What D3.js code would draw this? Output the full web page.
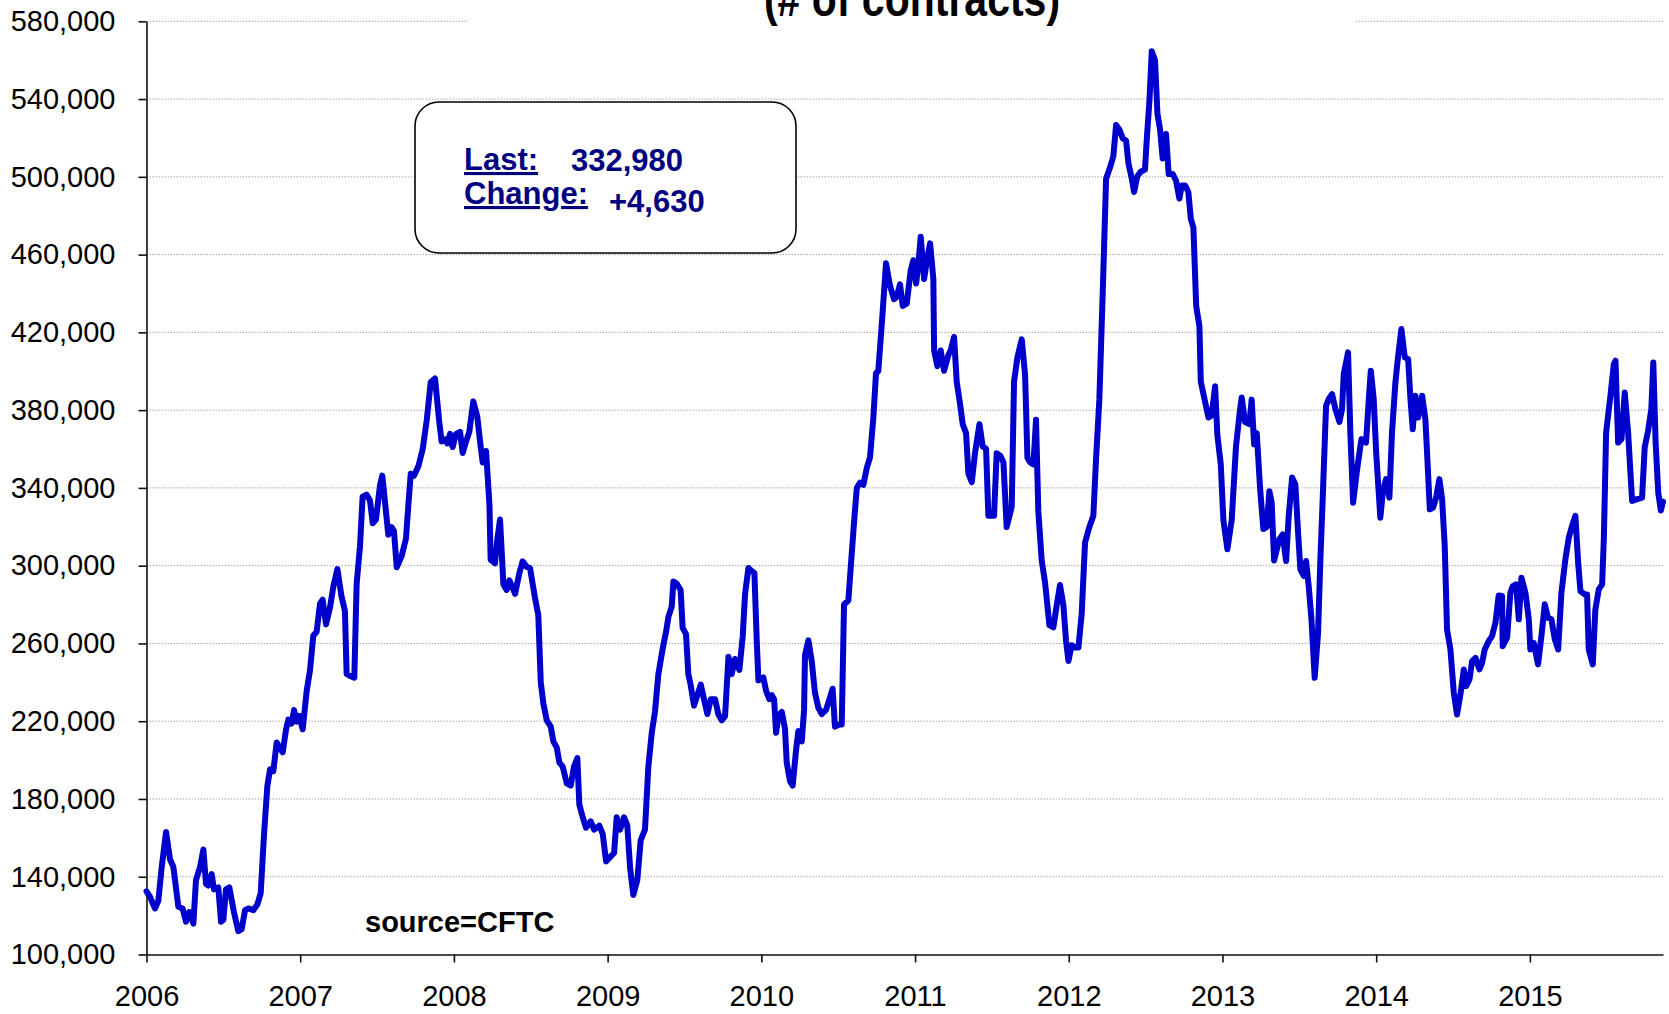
<!DOCTYPE html>
<html>
<head>
<meta charset="utf-8">
<script src="https://cdn.jsdelivr.net/npm/d3@7"></script>
<style>
  html, body { margin: 0; padding: 0; background: #ffffff; }
  svg { display: block; }
</style>
</head>
<body>
<svg id="chart" width="1669" height="1014"></svg>
<script>
// Net open positions, weekly, in thousands of contracts
const title = "(# of contracts)";
const sourceNote = "source=CFTC";
const yearTicks = [2006, 2007, 2008, 2009, 2010, 2011, 2012, 2013, 2014, 2015];
const valueTicks = [100000, 140000, 180000, 220000, 260000, 300000, 340000,
                    380000, 420000, 460000, 500000, 540000, 580000];
const lastValue = 332980;
const weeklyChange = 4630;

// Dates as decimal years (2006 + offset)
const yearOffsets = [
  0.000,0.023,0.055,0.077,0.099,0.127,0.153,0.175,0.207,0.235,0.257,0.279,0.305,0.322,0.348,0.370,
  0.387,0.402,0.424,0.439,0.467,0.485,0.500,0.517,0.539,0.569,0.597,0.619,0.641,0.663,0.695,0.721,
  0.743,0.764,0.786,0.804,0.825,0.847,0.869,0.886,0.908,0.923,0.944,0.960,0.977,0.994,1.016,1.042,
  1.064,1.085,1.107,1.129,1.146,1.168,1.194,1.216,1.242,1.268,1.291,1.302,1.324,1.352,1.367,1.389,
  1.406,1.432,1.454,1.472,1.493,1.519,1.534,1.552,1.573,1.595,1.610,1.628,1.660,1.688,1.704,1.719,
  1.740,1.769,1.797,1.823,1.849,1.877,1.905,1.920,1.942,1.957,1.975,1.992,2.014,2.040,2.057,2.079,
  2.100,2.126,2.152,2.170,2.187,2.209,2.231,2.239,2.267,2.283,2.300,2.322,2.343,2.361,2.398,2.426,
  2.447,2.473,2.495,2.528,2.549,2.565,2.582,2.604,2.630,2.647,2.669,2.686,2.708,2.734,2.760,2.781,
  2.803,2.816,2.838,2.859,2.890,2.912,2.946,2.968,2.990,3.016,3.042,3.059,3.081,3.107,3.128,3.146,
  3.167,3.193,3.215,3.243,3.265,3.287,3.308,3.330,3.358,3.380,3.395,3.417,3.428,3.449,3.475,3.488,
  3.510,3.525,3.540,3.562,3.584,3.606,3.627,3.649,3.671,3.699,3.720,3.742,3.764,3.786,3.807,3.829,
  3.857,3.879,3.894,3.916,3.937,3.955,3.970,3.981,4.013,4.031,4.052,4.068,4.083,4.096,4.111,4.133,
  4.154,4.165,4.187,4.204,4.226,4.241,4.263,4.278,4.284,4.306,4.328,4.349,4.371,4.393,4.421,4.443,
  4.464,4.479,4.508,4.523,4.538,4.566,4.581,4.603,4.621,4.642,4.664,4.686,4.707,4.729,4.746,4.761,
  4.790,4.811,4.837,4.863,4.881,4.902,4.920,4.946,4.972,4.989,5.007,5.022,5.037,5.059,5.076,5.098,
  5.119,5.124,5.145,5.167,5.189,5.217,5.232,5.254,5.271,5.293,5.310,5.332,5.347,5.369,5.390,5.419,
  5.440,5.462,5.477,5.514,5.531,5.553,5.575,5.596,5.629,5.644,5.666,5.694,5.716,5.731,5.748,5.770,
  5.787,5.802,5.824,5.846,5.874,5.900,5.922,5.943,5.965,5.982,5.998,6.019,6.041,6.063,6.084,6.106,
  6.134,6.160,6.178,6.199,6.221,6.243,6.269,6.290,6.308,6.329,6.351,6.373,6.388,6.410,6.425,6.446,
  6.468,6.496,6.507,6.525,6.540,6.561,6.577,6.594,6.611,6.633,6.650,6.677,6.698,6.720,6.735,6.757,
  6.778,6.794,6.811,6.829,6.850,6.859,6.887,6.909,6.930,6.952,6.967,6.989,7.006,7.032,7.060,7.088,
  7.110,7.125,7.147,7.175,7.190,7.206,7.223,7.245,7.266,7.288,7.305,7.320,7.336,7.370,7.392,7.414,
  7.431,7.453,7.474,7.492,7.507,7.529,7.544,7.561,7.579,7.600,7.622,7.637,7.652,7.674,7.691,7.713,
  7.735,7.761,7.778,7.789,7.817,7.832,7.850,7.876,7.904,7.934,7.952,7.965,7.984,8.000,8.027,8.043,
  8.064,8.086,8.103,8.125,8.143,8.164,8.186,8.208,8.223,8.238,8.255,8.273,8.299,8.320,8.331,8.349,
  8.370,8.390,8.411,8.429,8.446,8.461,8.483,8.505,8.526,8.548,8.570,8.585,8.607,8.624,8.646,8.672,
  8.689,8.706,8.732,8.754,8.776,8.797,8.819,8.823,8.852,8.873,8.889,8.910,8.928,8.945,8.971,8.993,
  9.003,9.025,9.053,9.075,9.097,9.118,9.140,9.162,9.184,9.205,9.231,9.253,9.274,9.296,9.314,9.329,
  9.357,9.372,9.383,9.409,9.426,9.448,9.470,9.481,9.496,9.524,9.546,9.557,9.574,9.596,9.617,9.639,
  9.665,9.698,9.730,9.747,9.769,9.790,9.803,9.818,9.835,9.852,9.866
];

// Open positions (thousands of contracts)
const positionsK = [
  132.5,129.6,123.7,127.6,145.0,163.0,149.0,145.0,124.6,123.7,116.9,121.8,115.9,138.3,145.0,154.0,
  136.3,135.5,141.4,133.5,134.5,116.9,117.8,133.5,134.5,121.8,112.0,113.0,122.8,123.7,122.8,125.7,
  131.6,161.0,186.5,195.3,194.3,209.0,206.0,204.0,215.8,220.8,218.8,225.7,219.8,222.7,215.8,235.5,
  246.3,264.0,266.0,280.6,282.5,269.8,278.6,289.4,298.2,284.5,276.7,244.3,243.3,242.4,290.4,310.0,
  335.5,336.5,333.5,321.8,323.7,341.4,346.3,332.5,315.9,319.8,317.8,299.2,305.0,313.9,331.6,347.3,
  346.3,351.2,360.0,374.7,394.3,396.3,373.7,363.9,364.9,362.9,367.8,361.0,367.8,368.8,358.0,363.9,
  368.8,384.5,376.7,363.9,353.1,359.0,331.6,303.1,301.2,313.9,323.7,290.4,287.5,292.4,285.5,296.3,
  302.2,299.4,298.8,283.2,274.5,240.0,229.0,220.4,217.2,209.6,206.4,198.8,196.6,188.0,186.9,196.6,
  201.0,177.1,170.6,165.2,168.5,164.2,166.3,162.0,147.9,150.1,152.2,170.6,164.2,170.6,166.3,144.7,
  130.6,138.2,158.7,164.2,196.6,214.0,224.8,244.2,257.2,265.9,273.5,278.9,291.9,290.8,287.5,268.0,
  264.8,244.2,238.8,228.0,233.4,238.8,231.3,223.7,231.3,231.3,223.7,220.4,222.6,253.1,244.2,252.0,
  246.4,263.7,285.4,298.8,297.3,296.2,261.6,241.0,242.5,235.6,231.3,233.4,231.3,214.0,222.6,224.8,
  216.1,198.8,189.0,186.9,205.3,215.0,209.6,225.8,254.0,261.6,250.8,234.5,226.9,223.7,225.8,231.3,
  236.7,217.2,218.3,218.3,280.0,282.1,298.4,322.2,339.9,342.7,341.6,350.3,355.7,376.3,399.0,400.1,
  431.3,455.5,444.0,437.1,438.2,444.7,433.6,434.8,452.0,457.1,445.1,455.5,469.2,447.4,456.6,465.8,
  447.4,410.7,402.6,410.7,400.3,408.4,410.7,417.6,394.6,383.1,372.8,368.2,347.5,342.9,357.8,372.8,
  361.3,360.1,325.7,325.7,357.8,356.7,353.2,319.9,330.3,394.6,407.2,416.4,398.0,355.5,353.2,352.1,
  375.0,327.9,302.7,291.2,269.4,268.3,279.8,290.1,279.8,261.6,251.0,259.1,257.9,257.9,275.1,311.9,
  319.9,325.7,355.5,385.4,440.5,499.1,504.9,510.6,526.7,524.4,519.8,518.6,507.1,499.1,492.2,500.3,
  502.6,503.7,518.6,539.3,564.6,560.0,532.4,524.4,509.4,522.1,501.4,501.4,498.0,488.8,495.6,495.6,
  492.2,478.4,473.8,433.6,423.3,394.6,384.2,376.2,377.3,392.3,367.0,352.1,323.4,308.4,323.4,361.3,
  377.3,386.5,373.9,372.8,385.4,362.4,368.2,339.5,318.8,319.9,338.3,332.6,302.7,313.6,316.1,302.4,
  325.6,345.3,341.9,317.0,298.1,294.7,302.4,289.5,272.4,242.3,265.5,303.3,334.2,382.2,385.7,388.2,
  380.5,374.0,380.5,398.5,409.7,368.5,332.4,349.6,365.1,363.3,385.7,400.3,385.7,358.2,324.7,337.6,
  344.5,335.0,368.5,394.2,408.0,421.7,407.1,406.2,385.7,370.2,387.4,376.2,387.4,375.4,358.2,329.0,
  329.9,335.0,344.5,334.2,310.1,267.2,256.9,234.6,223.4,233.7,246.6,238.0,241.5,250.9,252.6,246.6,
  250.0,256.9,261.2,263.8,270.6,284.7,284.4,258.6,263.0,286.1,289.5,290.4,272.4,293.8,286.1,272.4,
  256.9,260.3,249.2,263.8,280.1,273.2,272.4,262.1,256.9,286.1,303.3,314.4,320.4,325.6,301.5,286.9,
  285.2,285.2,256.9,249.2,277.5,287.8,290.4,313.6,368.5,387.4,403.7,405.4,363.3,365.1,389.1,368.5,
  333.3,334.2,335.0,360.8,369.4,380.5,404.5,363.3,337.6,328.35,332.98
];

const series = yearOffsets.map((o, i) => ({ year: 2006 + o, value: positionsK[i] * 1000 }));

const svg = d3.select("#chart");

const plotLeft = 146.5, plotRight = 1663, plotTop = 21.3, plotBottom = 954.5;
const lastYear = d3.max(series, d => d.year);

const x = d3.scaleLinear().domain([2006, lastYear]).range([plotLeft, plotRight]);
const y = d3.scaleLinear().domain([100000, 580000]).range([plotBottom, plotTop]);

const axisFont = "'Liberation Sans', Arial, sans-serif";

// Horizontal dotted gridlines
svg.append("g")
  .selectAll("line")
  .data(valueTicks.filter(v => v > 100000))
  .join("line")
  .attr("x1", plotLeft).attr("x2", plotRight)
  .attr("y1", d => y(d)).attr("y2", d => y(d))
  .attr("stroke", "#a8a8a8")
  .attr("stroke-width", 1)
  .attr("stroke-dasharray", "1.5,1.5");

// Title band (title sits above the plot and masks the top gridline)
svg.append("rect")
  .attr("x", 468).attr("y", 0).attr("width", 887).attr("height", 40)
  .attr("fill", "#ffffff");

// Condensed bold title
svg.append("text")
  .attr("transform", "translate(912,16) scale(0.82,1)")
  .attr("text-anchor", "middle")
  .attr("font-family", axisFont)
  .attr("font-weight", "bold")
  .attr("font-size", 50)
  .attr("fill", "#000")
  .text(title);

// Axes
const yAxis = d3.axisLeft(y)
  .tickValues(valueTicks)
  .tickFormat(d3.format(","))
  .tickSize(8).tickSizeOuter(0).tickPadding(23);

const xAxis = d3.axisBottom(x)
  .tickValues(yearTicks)
  .tickFormat(d3.format("d"))
  .tickSize(8).tickSizeOuter(0).tickPadding(23);

const gy = svg.append("g").attr("transform", `translate(${plotLeft},0)`).call(yAxis);
const gx = svg.append("g").attr("transform", `translate(0,${plotBottom})`).call(xAxis);

[gy, gx].forEach(g => {
  g.select(".domain").attr("stroke", "#111").attr("stroke-width", 1.6);
  g.selectAll(".tick line").attr("stroke", "#111").attr("stroke-width", 1.6);
  g.selectAll(".tick text")
    .attr("font-family", axisFont)
    .attr("font-size", 29)
    .attr("fill", "#000");
});

// Series line
const line = d3.line()
  .x(d => x(d.year))
  .y(d => y(d.value));

svg.append("path")
  .datum(series)
  .attr("d", line)
  .attr("fill", "none")
  .attr("stroke", "#0000cc")
  .attr("stroke-width", 6)
  .attr("stroke-linejoin", "round")
  .attr("stroke-linecap", "round");

// Latest reading box
const box = svg.append("g");
box.append("rect")
  .attr("x", 415).attr("y", 102).attr("width", 381).attr("height", 151)
  .attr("rx", 24).attr("ry", 24)
  .attr("fill", "#ffffff")
  .attr("stroke", "#000")
  .attr("stroke-width", 1.6);

const boxFont = "'Liberation Sans', Arial, sans-serif";
const navy = "#000080";
const fmtInt = d3.format(",");

box.append("text")
  .attr("x", 464).attr("y", 170)
  .attr("font-family", boxFont).attr("font-weight", "bold").attr("font-size", 31)
  .attr("fill", navy).attr("text-decoration", "underline")
  .text("Last:");
box.append("text")
  .attr("x", 571).attr("y", 171)
  .attr("font-family", boxFont).attr("font-weight", "bold").attr("font-size", 31)
  .attr("fill", navy)
  .text(fmtInt(lastValue));
box.append("text")
  .attr("x", 464).attr("y", 204)
  .attr("font-family", boxFont).attr("font-weight", "bold").attr("font-size", 31)
  .attr("fill", navy).attr("text-decoration", "underline")
  .text("Change:");
box.append("text")
  .attr("x", 609).attr("y", 212)
  .attr("font-family", boxFont).attr("font-weight", "bold").attr("font-size", 31)
  .attr("fill", navy)
  .text((weeklyChange >= 0 ? "+" : "") + fmtInt(weeklyChange));

// Source note
svg.append("text")
  .attr("x", 365).attr("y", 932)
  .attr("font-family", boxFont).attr("font-weight", "bold").attr("font-size", 29)
  .attr("fill", "#000")
  .text(sourceNote);
</script>
</body>
</html>
